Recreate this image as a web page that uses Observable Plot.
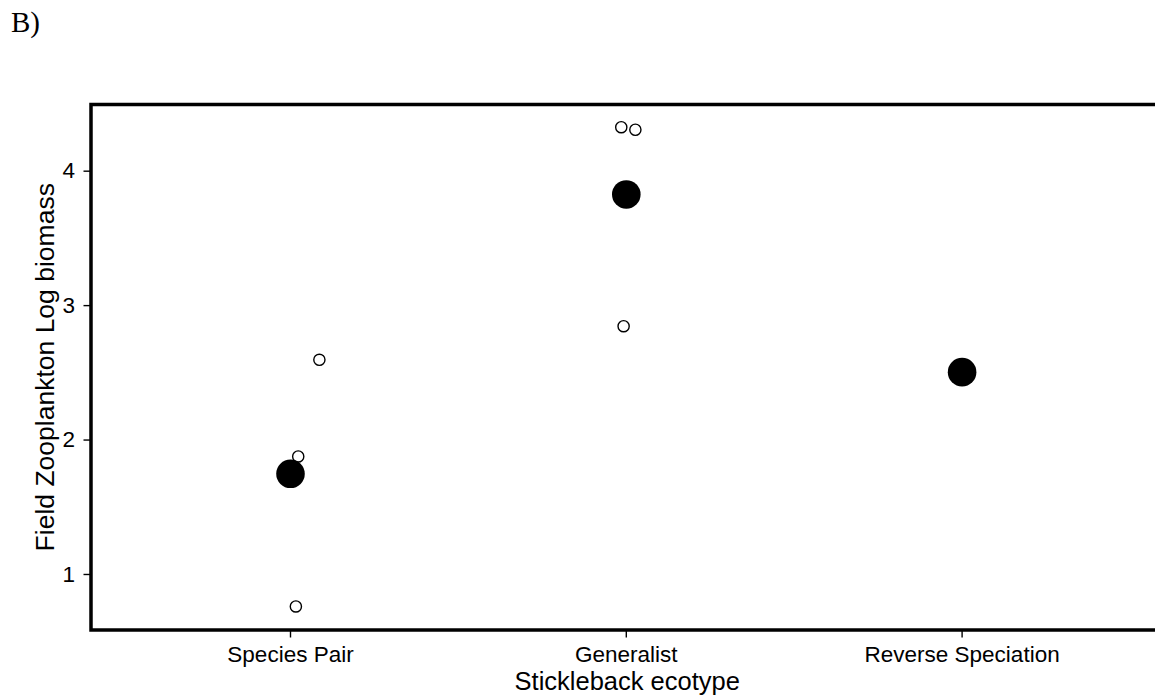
<!DOCTYPE html>
<html>
<head>
<meta charset="utf-8">
<script src="https://cdn.jsdelivr.net/npm/d3@7"></script>
<script src="https://cdn.jsdelivr.net/npm/@observablehq/plot@0.6"></script>
<style>
  html, body { margin: 0; padding: 0; background: #fff; overflow: hidden; }
  #wrap { position: relative; width: 1155px; height: 695px; overflow: hidden; }
  #tag { position: absolute; left: 11px; top: 8px; font-family: "Liberation Serif", "Times New Roman", serif; font-size: 29px; line-height: 1; color: #000; }
  #chart { position: absolute; left: 0; top: 0; width: 1165px; }
  #chart svg { max-width: none !important; }
</style>
</head>
<body>
<div id="wrap">
  <div id="chart"></div>
  <div id="tag">B)</div>
</div>
<script>
// ---- data ----
const categories = ["Species Pair", "Generalist", "Reverse Speciation"];
const meanValues = [1.749, 3.827, 2.505];
const rawCategory = ["Species Pair", "Species Pair", "Species Pair", "Generalist", "Generalist", "Generalist"];
const rawValues = [2.597, 1.878, 0.762, 4.327, 4.308, 2.847];
const rawJitter = [0.086, 0.023, 0.016, -0.015, 0.027, -0.008];
const yTicks = [1, 2, 3, 4];
const xLabel = "Stickleback ecotype";
const yLabel = "Field Zooplankton Log biomass";

// ---- tables ----
const means = categories.map((c, i) => ({cat: c, xi: i, value: meanValues[i]}));
const raw = rawCategory.map((c, i) => ({cat: c, xi: categories.indexOf(c) + rawJitter[i], value: rawValues[i]}));

const font = "'Liberation Sans', Arial, Helvetica, sans-serif";

const chart = Plot.plot({
  width: 1165,
  height: 695,
  marginLeft: 90.5,
  marginRight: 2,
  marginTop: 104,
  marginBottom: 65.5,
  style: {fontFamily: font, background: "white", color: "black", overflow: "visible", maxWidth: "none"},
  x: {type: "linear", domain: [0, 2], range: [290, 961.6]},
  y: {domain: [0.587, 4.496]},
  marks: [
    Plot.frame({stroke: "black", strokeWidth: 3.5}),
    Plot.axisY({
      ticks: yTicks, tickSize: 7, tickPadding: 9, fontSize: 22.5,
      strokeWidth: 1.4, label: null, tickFormat: d => String(d)
    }),
    Plot.axisX({
      ticks: [0, 1, 2], tickSize: 8, tickPadding: 8, fontSize: 22.5,
      strokeWidth: 1.4, label: null, tickFormat: i => categories[i]
    }),
    Plot.dot(raw, {x: "xi", y: "value", r: 5.6, stroke: "black", strokeWidth: 1.4, fill: "none"}),
    Plot.dot(means, {x: "xi", y: "value", r: 14.3, fill: "black", stroke: "none"}),
    Plot.text([xLabel], {frameAnchor: "bottom", text: d => d, textAnchor: "middle", lineAnchor: "middle", dy: 51.5, fontSize: 25.5, fill: "black"}),
    Plot.text([yLabel], {frameAnchor: "left", text: d => d, textAnchor: "middle", lineAnchor: "middle", rotate: -90, dx: -45, fontSize: 26.5, fill: "black"})
  ]
});
document.getElementById("chart").appendChild(chart);
</script>
</body>
</html>
